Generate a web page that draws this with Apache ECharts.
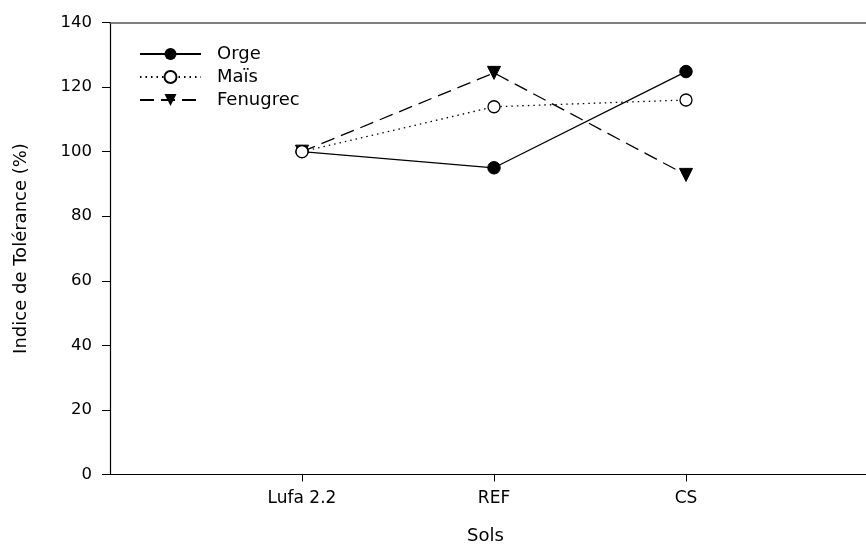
<!DOCTYPE html>
<html>
<head>
<meta charset="utf-8">
<script src="https://cdn.jsdelivr.net/npm/echarts@6/dist/echarts.min.js"></script>
<style>
  html, body { margin: 0; padding: 0; background: #fff; }
  #chart { width: 866px; height: 547px; }
</style>
</head>
<body>
<div id="chart"></div>
<script>
// Soils on the x axis, tolerance index (%) per crop
const categories = ['Lufa 2.2', 'REF', 'CS'];
const orge = [100, 95, 124.8];
const mais = [100, 113.9, 116];
const fenugrec = [100, 124.4, 92.8];
const yTicks = [0, 20, 40, 60, 80, 100, 120, 140];

const FONT = 'DejaVu Sans';
const toPoints = arr => arr.map((v, i) => [i + 1, v]);
const catPositions = categories.map((c, i) => i + 1);
// the frame runs past the right edge of the page
const X_MAX = 3.9375;

const chart = echarts.init(document.getElementById('chart'), null, { renderer: 'canvas' });

chart.setOption({
  animation: false,
  backgroundColor: '#ffffff',
  grid: { left: 110, right: 0, top: 22.5, bottom: 72.5 },
  legend: {
    orient: 'vertical',
    left: 139,
    top: 45,
    padding: 0,
    itemWidth: 61,
    itemHeight: 15,
    itemGap: 5,
    textStyle: { fontFamily: FONT, fontSize: 18, color: '#000', padding: [0, 0, 0, 11] },
    data: ['Orge', 'Maïs', 'Fenugrec']
  },
  graphic: [{
    type: 'text',
    left: 467,
    top: 527,
    style: { text: 'Sols', fontFamily: FONT, fontSize: 18, fill: '#000' }
  }],
  xAxis: [{
    type: 'value',
    min: 0,
    max: X_MAX,
    interval: 1,
    position: 'bottom',
    axisLine: { show: true, lineStyle: { color: '#000', width: 1.2 } },
    axisTick: { show: true, length: 7, customValues: catPositions, lineStyle: { color: '#000' } },
    axisLabel: {
      customValues: catPositions,
      margin: 16,
      fontFamily: FONT, fontSize: 17, color: '#000',
      formatter: v => categories[Math.round(v) - 1] || ''
    },
    splitLine: { show: false }
  }, {
    type: 'value',
    min: 0,
    max: X_MAX,
    position: 'top',
    axisLine: { show: true, lineStyle: { color: '#555', width: 1.5 } },
    axisTick: { show: false },
    axisLabel: { show: false },
    splitLine: { show: false }
  }],
  yAxis: {
    type: 'value',
    min: yTicks[0],
    max: yTicks[yTicks.length - 1],
    interval: 20,
    name: 'Indice de Tolérance (%)',
    nameLocation: 'middle',
    nameGap: 80,
    nameTextStyle: { fontFamily: FONT, fontSize: 18, color: '#000' },
    axisLine: { show: true, lineStyle: { color: '#000', width: 1.2 } },
    axisTick: { show: true, length: 8, lineStyle: { color: '#000' } },
    axisLabel: { margin: 18, fontFamily: FONT, fontSize: 16.5, color: '#000' },
    splitLine: { show: false }
  },
  series: [{
    name: 'Fenugrec',
    type: 'line',
    data: toPoints(fenugrec),
    symbol: 'triangle',
    symbolRotate: 180,
    symbolSize: 13,
    showAllSymbol: true,
    itemStyle: { color: '#000', borderColor: '#000' },
    lineStyle: { color: '#000', width: 1.3, type: [14, 7] },
    z: 3
  }, {
    name: 'Maïs',
    type: 'line',
    data: toPoints(mais),
    symbol: 'circle',
    symbolSize: 12,
    showAllSymbol: true,
    itemStyle: { color: '#fff', borderColor: '#000', borderWidth: 1.3 },
    lineStyle: { color: '#000', width: 1.3, type: [1.5, 4] },
    z: 4
  }, {
    name: 'Orge',
    type: 'line',
    data: toPoints(orge),
    symbol: 'circle',
    symbolSize: 12.5,
    showAllSymbol: true,
    itemStyle: { color: '#000', borderColor: '#000' },
    lineStyle: { color: '#000', width: 1.3, type: 'solid' },
    z: 2
  }]
});
</script>
</body>
</html>
